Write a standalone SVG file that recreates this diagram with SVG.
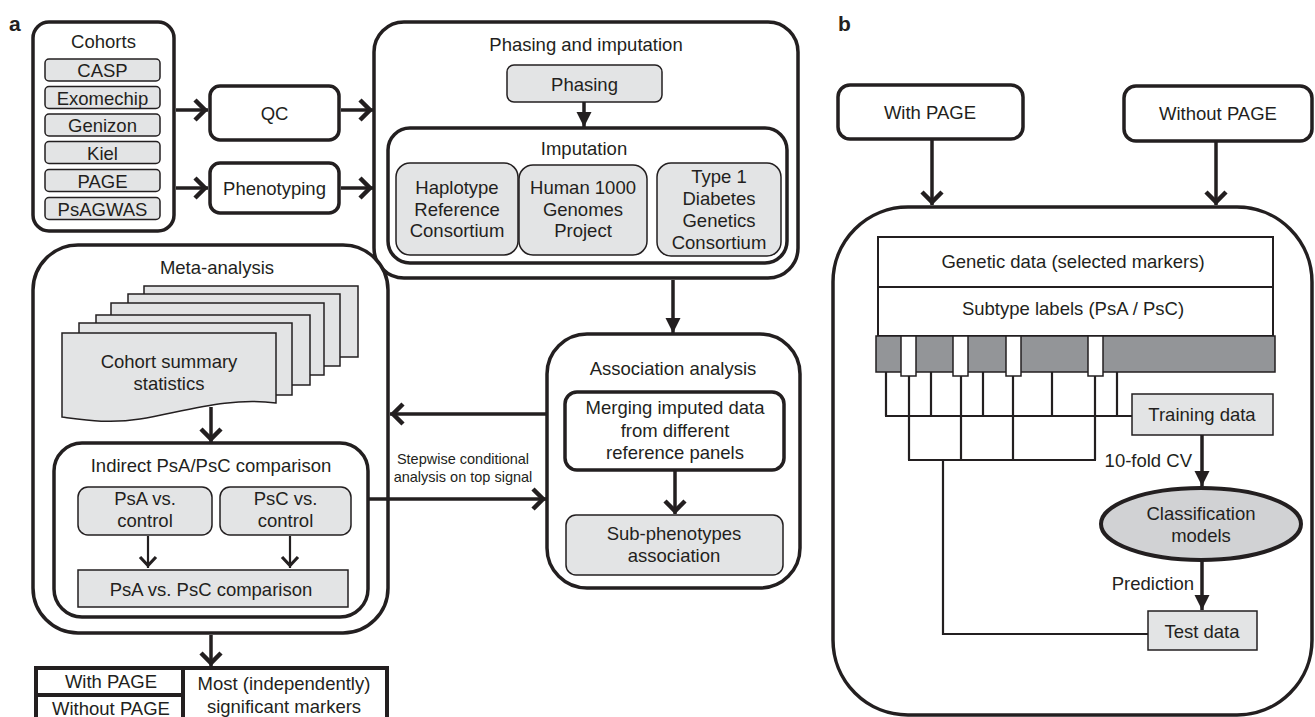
<svg xmlns="http://www.w3.org/2000/svg" width="1315" height="717" viewBox="0 0 1315 717">
<defs>
<style>
text{font-family:"Liberation Sans",Arial,sans-serif;font-size:18.5px;fill:#231f20;text-anchor:middle}
.lbl{font-weight:bold;font-size:21px;text-anchor:start}
.sm{font-size:14.5px}
.end{text-anchor:end}
.big{fill:#fff;stroke:#231f20;stroke-width:3.5}
.g{fill:#e3e4e5;stroke:#231f20;stroke-width:1.5}
.w{fill:#fff;stroke:#231f20;stroke-width:2}
.con{fill:none;stroke:#231f20;stroke-width:3.5}
.thin{fill:none;stroke:#231f20;stroke-width:2.2}
</style>
<marker id="chev" markerUnits="userSpaceOnUse" viewBox="-16 -13 18 26" refX="0" refY="0" markerWidth="18" markerHeight="26" orient="auto">
<path d="M-13,-10 L-3,0 L-13,10" fill="none" stroke="#231f20" stroke-width="4.5"/>
</marker>
<marker id="chevs" markerUnits="userSpaceOnUse" viewBox="-14 -11 16 22" refX="0" refY="0" markerWidth="16" markerHeight="22" orient="auto">
<path d="M-11,-8 L-2.5,0 L-11,8" fill="none" stroke="#231f20" stroke-width="3.2"/>
</marker>
<marker id="tri" markerUnits="userSpaceOnUse" viewBox="-16 -9 17 18" refX="0" refY="0" markerWidth="17" markerHeight="18" orient="auto">
<path d="M-15,-7.5 L0,0 L-15,7.5 z" fill="#231f20"/>
</marker>
</defs>

<text class="lbl" x="9" y="31">a</text>
<text class="lbl" x="838" y="31">b</text>

<g id="cohorts">
<rect class="big" x="33" y="22" width="141" height="209" rx="16"/>
<text x="103.5" y="48">Cohorts</text>
<rect class="g" x="45" y="59" width="115" height="22" rx="4"/><text x="102.5" y="77">CASP</text>
<rect class="g" x="45" y="86.5" width="115" height="22" rx="4"/><text x="102.5" y="104.5">Exomechip</text>
<rect class="g" x="45" y="114" width="115" height="22" rx="4"/><text x="102.5" y="132">Genizon</text>
<rect class="g" x="45" y="141.5" width="115" height="22" rx="4"/><text x="102.5" y="159.5">Kiel</text>
<rect class="g" x="45" y="169.5" width="115" height="22" rx="4"/><text x="102.5" y="187.5">PAGE</text>
<rect class="g" x="45" y="197.5" width="115" height="22" rx="4"/><text x="102.5" y="215.5">PsAGWAS</text>
</g>

<g id="qc">
<rect class="big" x="210" y="86" width="129" height="54" rx="10"/>
<text x="274.5" y="119.5">QC</text>
</g>
<g id="phenotyping">
<rect class="big" x="210" y="163" width="129" height="50" rx="10"/>
<text x="274.5" y="194.5">Phenotyping</text>
</g>

<g id="phasing-imputation">
<rect class="big" x="374" y="22" width="424" height="256" rx="30"/>
<text x="586" y="51">Phasing and imputation</text>
<rect class="g" x="507" y="65" width="155" height="37" rx="7"/>
<text x="584.5" y="91">Phasing</text>
<rect class="big" x="388" y="128" width="399" height="135" rx="22"/>
<text x="584" y="155">Imputation</text>
<rect class="g" x="396" y="163" width="122" height="92" rx="14"/>
<text x="457" y="194">Haplotype</text><text x="457" y="216">Reference</text><text x="457" y="237">Consortium</text>
<rect class="g" x="519" y="165" width="128" height="90" rx="14"/>
<text x="583" y="194">Human 1000</text><text x="583" y="216">Genomes</text><text x="583" y="237">Project</text>
<rect class="g" x="657" y="163" width="124" height="93" rx="14"/>
<text x="719" y="183">Type 1</text><text x="719" y="205">Diabetes</text><text x="719" y="227">Genetics</text><text x="719" y="249">Consortium</text>
</g>

<g id="meta-analysis">
<rect class="big" x="33" y="245" width="355" height="388" rx="45"/>
<text x="217" y="274">Meta-analysis</text>
<rect class="g" x="144" y="286" width="214" height="71"/>
<rect class="g" x="128" y="294" width="212" height="72"/>
<rect class="g" x="111" y="303" width="213" height="72"/>
<rect class="g" x="96" y="315" width="214" height="70"/>
<rect class="g" x="79" y="323" width="213" height="72"/>
<path class="g" d="M62,333 H276 V403 C230,397 190,410 140,419 C110,424 85,420 62,417 Z"/>
<text x="169" y="368">Cohort summary</text>
<text x="169" y="390">statistics</text>
<rect class="big" x="54" y="443" width="314" height="174" rx="28"/>
<text x="211" y="472">Indirect PsA/PsC comparison</text>
<rect class="g" x="78" y="487" width="134" height="48" rx="10"/>
<text x="145" y="505">PsA vs.</text><text x="145" y="527">control</text>
<rect class="g" x="220" y="487" width="131" height="48" rx="10"/>
<text x="285.5" y="505">PsC vs.</text><text x="285.5" y="527">control</text>
<rect class="g" x="78" y="570" width="270" height="37"/>
<text x="211" y="596">PsA vs. PsC comparison</text>
</g>

<g id="association">
<rect class="big" x="547" y="334" width="253" height="254" rx="40"/>
<text x="673" y="375">Association analysis</text>
<rect class="big" x="565" y="392" width="219" height="78" rx="12"/>
<text x="675" y="414">Merging imputed data</text><text x="675" y="437">from different</text><text x="675" y="459">reference panels</text>
<rect class="g" x="566" y="515" width="217" height="60" rx="10"/>
<text x="674" y="540">Sub-phenotypes</text><text x="674" y="562">association</text>
</g>

<g id="markers-table">
<rect x="183" y="668" width="204" height="62" fill="#fff" stroke="#231f20" stroke-width="4"/>
<rect x="36" y="668" width="147" height="27" fill="#fff" stroke="#231f20" stroke-width="4"/>
<rect x="36" y="695" width="147" height="35" fill="#fff" stroke="#231f20" stroke-width="4"/>
<text x="111" y="688">With PAGE</text>
<text x="111" y="715">Without PAGE</text>
<text x="284" y="690">Most (independently)</text>
<text x="284" y="713">significant markers</text>
</g>

<g id="with-page">
<rect class="big" x="838" y="85" width="185" height="54" rx="12"/>
<text x="930" y="119">With PAGE</text>
</g>
<g id="without-page">
<rect class="big" x="1124" y="86" width="188" height="55" rx="12"/>
<text x="1218" y="120">Without PAGE</text>
</g>

<g id="classification-panel">
<rect class="big" x="833" y="207" width="479" height="508" rx="75"/>
<rect class="w" x="878" y="237" width="395" height="50"/>
<text x="1073" y="268">Genetic data (selected markers)</text>
<rect class="w" x="878" y="287" width="395" height="49"/>
<text x="1073" y="315">Subtype labels (PsA / PsC)</text>
<rect x="876" y="336" width="399" height="36" fill="#939598" stroke="#231f20" stroke-width="1.5"/>
<rect x="901" y="336" width="15" height="40" fill="#fff" stroke="#231f20" stroke-width="1.5"/>
<rect x="953" y="336" width="15" height="40" fill="#fff" stroke="#231f20" stroke-width="1.5"/>
<rect x="1006" y="336" width="15" height="40" fill="#fff" stroke="#231f20" stroke-width="1.5"/>
<rect x="1088" y="336" width="15" height="40" fill="#fff" stroke="#231f20" stroke-width="1.5"/>
<rect class="g" x="1132" y="394" width="141" height="41"/>
<text x="1202" y="421">Training data</text>
<ellipse cx="1201" cy="524" rx="100" ry="36" fill="#d1d2d4" stroke="#231f20" stroke-width="4"/>
<text x="1201" y="520">Classification</text>
<text x="1201" y="542">models</text>
<rect class="g" x="1148" y="611" width="109" height="39"/>
<text x="1202" y="638">Test data</text>
</g>

<g id="connectors">
<line class="con" x1="176" y1="110" x2="208" y2="110" marker-end="url(#chev)"/>
<line class="con" x1="176" y1="188" x2="208" y2="188" marker-end="url(#chev)"/>
<line class="con" x1="341" y1="110" x2="373" y2="110" marker-end="url(#chev)"/>
<line class="con" x1="341" y1="188" x2="373" y2="188" marker-end="url(#chev)"/>
<line class="con" x1="584" y1="102" x2="584" y2="127" marker-end="url(#tri)"/>
<line class="con" x1="673" y1="280" x2="673" y2="333" marker-end="url(#tri)"/>
<line class="con" x1="211" y1="407" x2="211" y2="442" marker-end="url(#chev)"/>
<line class="thin" x1="148" y1="536" x2="148" y2="568" marker-end="url(#chevs)"/>
<line class="thin" x1="290" y1="536" x2="290" y2="568" marker-end="url(#chevs)"/>
<line class="con" x1="211" y1="635" x2="211" y2="666" marker-end="url(#chev)"/>
<line class="con" x1="675" y1="471" x2="675" y2="514" marker-end="url(#chev)"/>
<line class="con" x1="546" y1="414" x2="390" y2="414" marker-end="url(#chev)"/>
<line class="con" x1="369" y1="499" x2="546" y2="499" marker-end="url(#chev)"/>
<text class="sm" x="463" y="464">Stepwise conditional</text>
<text class="sm" x="463" y="482">analysis on top signal</text>
<line class="con" x1="932" y1="140" x2="932" y2="205" marker-end="url(#chev)"/>
<line class="con" x1="1216" y1="142" x2="1216" y2="205" marker-end="url(#chev)"/>
<path class="thin" d="M886,372 V416 M931,372 V416 M983,372 V416 M1052,372 V416 M1117,372 V416 M885,416 H1132"/>
<path class="thin" d="M909,376 V460 M961,376 V460 M1013,376 V460 M1095,376 V460 M908,460 H1096 M943,460 V634 H1148"/>
<line class="con" x1="1202" y1="435" x2="1202" y2="486" marker-end="url(#tri)"/>
<text class="end" x="1192" y="467">10-fold CV</text>
<line class="con" x1="1202" y1="560" x2="1202" y2="610" marker-end="url(#tri)"/>
<text class="end" x="1194" y="590">Prediction</text>
</g>
</svg>
